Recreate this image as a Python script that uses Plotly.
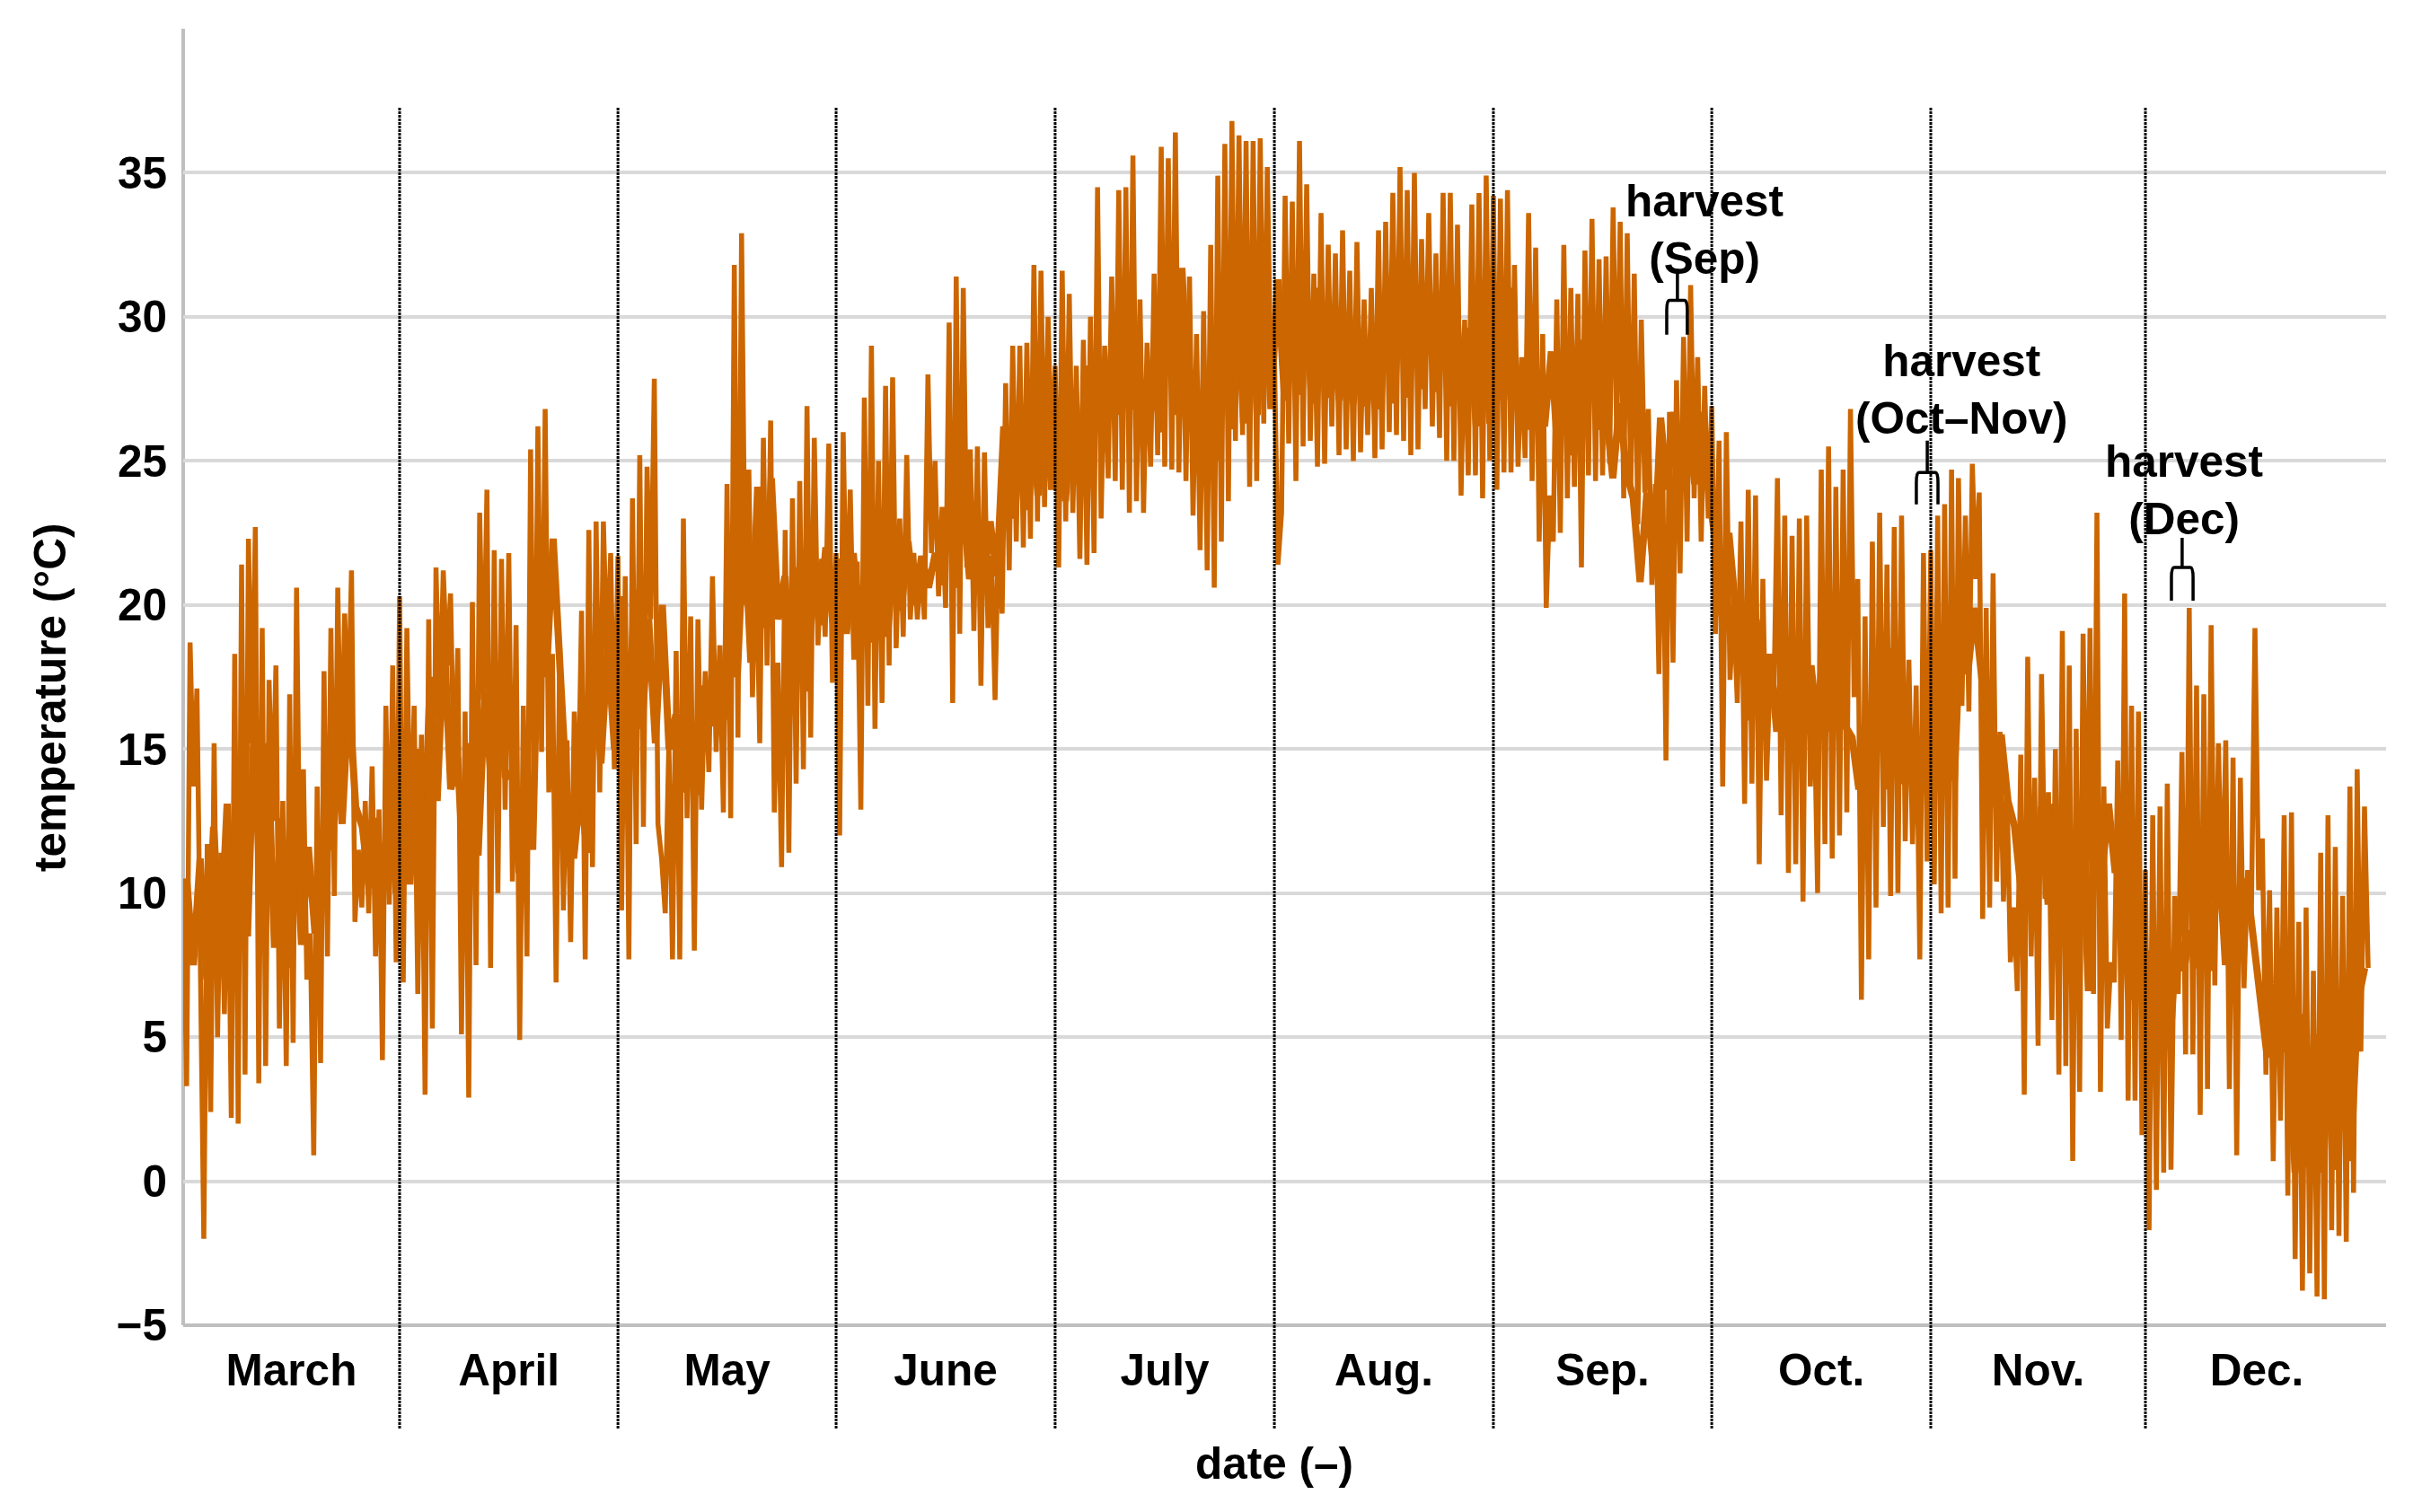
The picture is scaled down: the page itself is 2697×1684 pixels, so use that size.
import plotly.graph_objects as go

months = ["March", "April", "May", "June", "July", "Aug.", "Sep.", "Oct.", "Nov.", "Dec."]
# Month boundaries along the axis (one unit is about a month)
month_edges = [0, 0.990, 1.989, 2.987, 3.989, 4.992, 5.994, 6.993, 7.995, 8.977, 9.996]
divider_positions = month_edges[1:10]

# Alternating peaks and troughs (deg C)
t_march = [10.5, 3.3, 18.7, 13.7, 17.1, 6, -2, 11.7, 2.4, 15.2, 5, 11.4, 5.8, 12.6, 2.2, 18.3, 2, 21.4, 3.7, 22.3,
           15.2, 22.7, 3.4, 19.2, 4, 17.4, 12.5, 17.9, 5.3, 13.2, 4, 16.9, 4.8, 20.6, 9.8, 14.3, 7, 8.6, 0.9, 13.7,
           4.1, 17.7, 7.8, 19.2, 9.9, 20.6, 13.4, 19.7, 15.9, 21.2, 9, 11.5, 9.5, 13.2, 9.3, 14.4, 7.8, 12.9, 4.2,
           16.5, 9.6, 17.9, 7.6]
t_april = [20.3, 6.9, 19.2, 11.1, 16.5, 6.5, 15.5, 3, 19.5, 5.3, 21.3, 16.1, 21.2, 17.9, 20.4, 13.7, 18.5, 5.1, 16.3,
           2.9, 20.1, 7.5, 23.2, 16.7, 24, 7.4, 21.9, 10, 21.6, 12.9, 21.8, 10.4, 19.3, 4.9, 16.5, 7.8, 25.4, 12.6,
           26.2, 14.9, 26.8, 13.5, 18.3, 6.9, 18.6, 9.4, 15.3, 8.3, 16.3, 12.5, 19.8, 7.7, 22.6, 10.9, 22.9, 13.5,
           22.9, 18, 21.8, 14.3]
t_may = [21.7, 9.4, 21, 7.7, 23.7, 11.7, 25.2, 12.3, 24.8, 19.5, 27.85, 12.4, 11.2, 9.3, 15.2, 7.7, 18.4, 7.7, 23,
         12.6, 19.6, 8, 19.5, 12.9, 17.7, 14.2, 21, 14.9, 18.6, 12.8, 24.2, 12.6, 31.8, 15.4, 32.9, 20, 24.7, 16.8,
         22.3, 15.2, 25.8, 17.9, 26.4, 12.8, 18, 10.9, 22.6, 11.4, 23.7, 13.8, 24.3, 14.3, 26.9, 15.4, 25.8, 18.6,
         21.6, 18.9, 25.6, 17.3]
t_june = [21.8, 12, 26, 19, 24, 18.1, 21.5, 12.9, 27.2, 16.5, 29, 15.7, 25, 16.6, 27.6, 17.9, 27.9, 18.5, 23, 18.9,
          25.2, 19.5, 21.8, 19.5, 21.5, 19.5, 28, 21.8, 25, 20.3, 23.4, 19.9, 29.8, 16.6, 31.4, 19, 31, 21.3, 25.4,
          19.1, 25.5, 17.2, 25.3, 19.2, 21.7, 16.7, 22.9, 19.7, 27.7, 21.2, 29, 22.2, 29, 22, 29.1, 22.3, 31.8, 22.9,
          31.6, 23.4, 30, 25]
t_july = [28.3, 21.3, 31.6, 22.9, 30.8, 23.2, 28.3, 21.6, 29.2, 21.4, 30, 21.8, 34.5, 23, 29, 24.4, 31.4, 24.3, 34.4,
          24, 34.5, 23.2, 35.6, 23.6, 30.6, 23.2, 29.1, 24.8, 31.5, 25.2, 35.9, 24.8, 35.5, 24.7, 36.4, 24.6, 31.5,
          24.3, 31.4, 23.1, 29.4, 21.9, 30.2, 21.2, 32.5, 20.6, 34.9, 22.2, 36, 23.6, 36.8, 25.7, 36.3, 25.9, 36.1,
          24.1, 36.1, 24.3, 36.2, 26.3, 35.2, 28]
t_aug = [28.8, 21.4, 23.2, 34.2, 25.6, 34, 24.3, 36.1, 25.5, 34.6, 25.7, 31.5, 24.8, 33.6, 24.9, 32.5, 26.2, 32.2,
         25.2, 33, 25.4, 31.6, 25, 32.6, 25.3, 30.6, 25.9, 31, 25.1, 33, 25.4, 33.3, 26, 34.3, 25.9, 35.2, 25.7, 34.4,
         25.2, 35, 25.4, 32.7, 26.8, 33.6, 26.2, 32.2, 25.8, 34.3, 25, 34.3, 25, 33.2, 23.8, 29.9, 24.5, 33.9, 24.5,
         34.3, 23.7, 34.9, 25]
t_sep = [34.2, 24, 34.1, 24.6, 34.4, 24.6, 31.8, 24.8, 28.6, 25.1, 33.6, 24.3, 32.4, 22.2, 29.4, 19.9, 23.8, 22.2,
         30.6, 22.5, 32.5, 23.7, 31, 24.1, 30.8, 21.3, 32.3, 24.5, 33.4, 24.3, 32, 24.5, 32.1, 24.9, 33.8, 25.9, 33.3,
         23.7, 32.9, 24, 31.5, 22.8, 29.9, 23.9, 26.8, 20.7, 24.2, 17.6, 25.7, 14.6, 26.7, 18, 27.8, 21.1, 29.3, 22.2,
         31.1, 23.7, 28.6, 22.2, 27.6, 23]
t_oct = [26.9, 19, 25.7, 13.7, 26, 17.4, 20, 16.6, 22.9, 13.1, 24, 13.8, 23.8, 11, 20.9, 13.9, 17.7, 16.5, 24.4, 12.7,
         23.1, 10.7, 22.4, 11, 23, 9.7, 23.1, 13.7, 17.1, 10, 24.7, 11.7, 25.5, 11.2, 24.1, 12, 24.7, 12.8, 26.8, 16.8,
         20.9, 6.3, 19.6, 7.7, 22.2, 9.5, 23.2, 12.3, 21.4, 9.9, 22.7, 10, 23.1, 11.8, 18.1, 11.7, 17.2, 7.7, 21.8,
         11.1]
t_nov = [21.9, 10.3, 23.1, 9.3, 23.5, 9.5, 24.7, 10.5, 24.4, 16.5, 23.1, 16.3, 24.9, 20.9, 23.9, 9.1, 19.9, 9.5, 21.1,
         10.4, 15.6, 9.7, 13.8, 7.6, 9.5, 6.6, 14.8, 3, 18.2, 7.8, 14, 4.7, 17.6, 9.8, 13.5, 5.6, 15, 3.7, 19.1, 4,
         17.9, 0.7, 15.7, 3.1, 19, 9.3, 19.2, 6.5, 23.2, 3.1, 13.7, 5.3, 7.6, 6.9, 14.6, 4.9, 20.4, 2.8, 16.5, 2.8,
         16.3, 1.6]
t_dec = [10.8, -1.7, 12.7, -0.3, 13, 0.3, 13.8, 0.4, 9.9, 6.5, 14.9, 4.4, 19.9, 4.4, 17.2, 2.3, 16.9, 3.2, 19.3, 6.8,
         15.2, 9, 15.3, 3.2, 14.7, 0.9, 14, 6.7, 10.8, 9.1, 19.2, 10.1, 11.9, 3.7, 10.1, 0.7, 9.5, 2.1, 12.7, -0.5,
         12.8, -2.7, 9, -3.8, 9.5, -3.2, 7.3, -4, 11.4, -4.1, 12.7, -1.7, 11.6, -1.9, 9.9, -2.1, 13.7, -0.4, 14.3,
         4.5, 13, 7.4]
monthly_temps = [t_march, t_april, t_may, t_june, t_july, t_aug, t_sep, t_oct, t_nov, t_dec]

# Smaller swings inside the densely overplotted core of the line
c_march = [10.5, 7.5, 11.2, 7, 12.3, 8, 13.1, 7.2, 14.8, 8.5, 16, 9, 15.2, 8.1, 12.6, 7.4, 13.2, 8.2, 11.6, 8.6, 12,
           11.5, 16.2, 12.4, 17, 13, 12.3, 10.2, 12.6, 10.4, 13, 10]
c_april = [14.6, 10.3, 15, 11, 17.5, 13.2, 19, 13.6, 14.7, 10.2, 15.2, 11.3, 17, 13.6, 17.4, 14, 14.2, 10.7, 14.5, 11.5,
           21.7, 17.5, 22.3, 18, 13.4, 11.2, 13.6, 11.4, 18, 14.5, 18.6, 15]
c_may = [20.3, 16, 20.5, 15.7, 19.5, 15.2, 20, 15, 16.2, 13.5, 16.5, 13.4, 17.2, 15.8, 17.3, 16, 22.4, 17.5, 23, 18,
         24.1, 19.2, 24.4, 19.5, 21, 16.7, 21.3, 17, 21.8, 19.3, 22, 19.4]
c_june = [21.6, 19, 21.8, 19.2, 22, 18.7, 21.5, 18.9, 22.1, 19.8, 22.2, 20, 21.7, 20.6, 21.8, 20.7, 23.5, 20.6, 23.7,
          20.9, 22.7, 20.6, 22.9, 21, 26.2, 23, 26.5, 23.3, 26.9, 23.8, 27, 24]
c_july = [26.8, 23.6, 27, 24.2, 28.3, 25.4, 28.5, 26, 29.8, 26.6, 30, 26.8, 27.6, 25.9, 27.7, 26, 31.5, 26.6, 31.7, 26.5,
          27.5, 24.6, 27.7, 25, 31.4, 26.1, 31.7, 26.3, 32.2, 26.6, 32.5, 26.8]
c_aug = [31.3, 27.1, 31.5, 27.3, 30.8, 27, 31, 27.2, 29.5, 27.1, 29.6, 27, 29.2, 26.9, 29.3, 26.8, 31.4, 27, 31.7, 27.2,
         30.8, 27.5, 31, 27.4, 30.4, 26.9, 30.6, 27.1, 29.6, 26.2, 29.8, 26.3]
c_sep = [30.8, 27.1, 31, 26.9, 27.6, 26.1, 27.7, 26.2, 28.8, 25, 29, 25.2, 29.2, 26, 29.4, 26.1, 26.8, 24.4, 27, 24.6,
         23.7, 20.8, 23.9, 21.1, 26.5, 24, 26.7, 24.1, 26.6, 24.2, 26.7, 24]
c_oct = [22.3, 19.6, 22.5, 19.8, 19.3, 16, 19.5, 16.2, 18.3, 15.6, 18.5, 15.8, 17.8, 15.5, 17.9, 15.7, 19.7, 15.6, 19.9,
         15.8, 15.4, 13.6, 15.5, 13.8, 18.3, 13.6, 18.5, 13.8, 15, 14, 15.1, 14.1]
c_nov = [17.8, 13.6, 18, 13.9, 19.7, 17.6, 19.9, 17.7, 15.4, 13, 15.5, 13.2, 12.3, 10, 12.5, 10.2, 13, 9.6, 13.1, 9.8,
         12.9, 6.4, 13.1, 6.6, 13, 10.6, 13.1, 10.7, 11.5, 6.3, 11.7, 6.5]
c_dec = [8, 4.3, 8.2, 4.6, 8.6, 7.3, 8.7, 7.4, 11.5, 7.3, 11.7, 7.5, 10.4, 8.3, 10.5, 8.4, 6.1, 4.3, 6.2, 4.5, 5.7, 0.3,
         5.8, 0.5, 5.1, 0.3, 5.2, 0.4, 6, 0.7, 6.2, 7.4]
monthly_core = [c_march, c_april, c_may, c_june, c_july, c_aug, c_sep, c_oct, c_nov, c_dec]

y_ticks = [-5, 0, 5, 10, 15, 20, 25, 30, 35]

# Harvest brackets: left, right, centre, stem top, bar, leg bottom
harvest_brackets = [
    (6.787, 6.881, 6.836, 31.66, 30.57, 29.38),
    (7.929, 8.028, 7.979, 25.70, 24.60, 23.49),
    (9.096, 9.195, 9.145, 22.33, 21.30, 20.15),
]
harvest_labels = ["harvest<br>(Sep)", "harvest<br>(Oct\u2013Nov)", "harvest<br>(Dec)"]
harvest_label_x = [6.960, 8.135, 9.153]
harvest_label_y = [33.03, 27.5, 24.0]

FONT = dict(family="Liberation Sans", size=49.5, color="black", weight=700)


def month_series(series, offset=0.0):
    xs, ys = [], []
    for m, vals in enumerate(series):
        a, b = month_edges[m], month_edges[m + 1]
        den = len(vals) - 1 if (m == len(series) - 1 and offset == 0) else len(vals)
        for i, v in enumerate(vals):
            xs.append(a + (b - a) * (i + offset) / den)
            ys.append(v)
    return xs, ys


fig = go.Figure()
cx_all, cy_all = month_series(monthly_core, 0.5)
fig.add_trace(go.Scatter(x=cx_all, y=cy_all, mode="lines", line=dict(color="#CC6600", width=8), hoverinfo="skip"))
tx_all, ty_all = month_series(monthly_temps)
fig.add_trace(go.Scatter(x=tx_all, y=ty_all, mode="lines", line=dict(color="#CC6600", width=5.5), hoverinfo="skip"))

shapes = [
    dict(type="line", xref="paper", yref="paper", x0=0, x1=0, y0=0, y1=1, layer="below",
         line=dict(color="#BFBFBF", width=4)),
    dict(type="line", xref="paper", yref="paper", x0=0, x1=1, y0=0, y1=0, layer="below",
         line=dict(color="#BFBFBF", width=4)),
]
for d in divider_positions:
    shapes.append(dict(type="line", xref="x", yref="paper", x0=d, x1=d, y0=-0.0796, y1=0.9394,
                       line=dict(color="black", width=3, dash="3px,1px")))
for x0, x1, cx, top, bar, bot in harvest_brackets:
    ex, ey = 0.012, 0.35
    path = (f"M {x0},{bot} L {x0},{bar-ey} Q {x0},{bar} {x0+ex},{bar} L {x1-ex},{bar} "
            f"Q {x1},{bar} {x1},{bar-ey} L {x1},{bot} M {cx},{bar} L {cx},{top}")
    shapes.append(dict(type="path", xref="x", yref="y", path=path, line=dict(color="black", width=3.5)))

annotations = [
    dict(x=lx, y=ly, xref="x", yref="y", text=t, showarrow=False, font=FONT, align="center",
         xanchor="center", yanchor="middle")
    for t, lx, ly in zip(harvest_labels, harvest_label_x, harvest_label_y)
]
annotations.append(dict(x=(1419 - 204) / 2453, y=(1476 - 1629) / 1444, xref="paper", yref="paper", text="date (\u2013)",
                        showarrow=False, font=FONT, xanchor="center", yanchor="middle"))
annotations.append(dict(x=(55 - 204) / 2453, y=(1476 - 777) / 1444, xref="paper", yref="paper",
                        text="temperature (\u00b0C)", textangle=-90, showarrow=False, font=FONT,
                        xanchor="center", yanchor="middle"))

fig.update_layout(
    width=2697, height=1684, paper_bgcolor="white", plot_bgcolor="white", showlegend=False,
    margin=dict(l=204, r=40, t=32, b=208, autoexpand=False),
    shapes=shapes, annotations=annotations,
    xaxis=dict(range=[0, 10.078], tickmode="array",
               tickvals=[(month_edges[i] + month_edges[i + 1]) / 2 for i in range(10)], ticktext=months,
               tickfont=FONT, ticks="", showgrid=False, zeroline=False, showline=False,
               ticklabelstandoff=16),
    yaxis=dict(range=[-5, 40], tickmode="array", tickvals=y_ticks, tickfont=FONT, ticks="",
               showgrid=True, gridcolor="#D9D9D9", gridwidth=4, zeroline=False, showline=False,
               ticklabelstandoff=17),
)

fig.write_html("out.html", config=dict(displayModeBar=False), post_script="document.body.style.margin='0';")
